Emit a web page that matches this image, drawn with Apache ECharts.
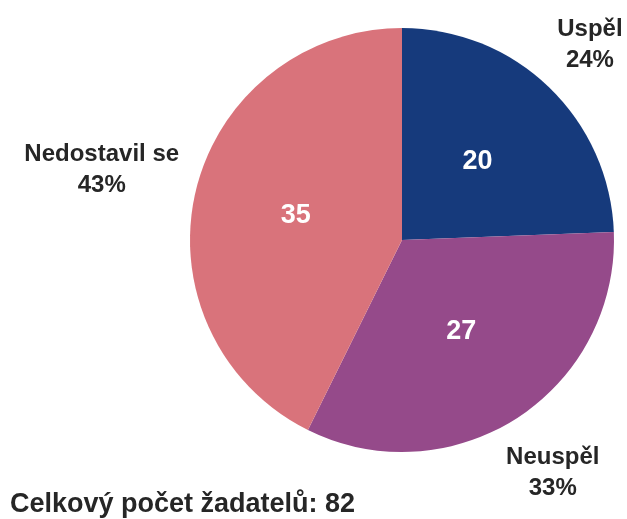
<!DOCTYPE html>
<html lang="cs">
<head>
    <meta charset="UTF-8">
    <title>Celkový počet žadatelů</title>
    <script src="https://cdn.jsdelivr.net/npm/echarts@6/dist/echarts.min.js"></script>
    <style type="text/css">
    html, body { margin: 0; padding: 0; background: #fff; }
    #main { width: 627px; height: 519px; }
    </style>
</head>
<body>
    <div id="main"></div>
    <script type="text/javascript">
        // data
        var names = ['Uspěl', 'Neuspěl', 'Nedostavil se'];
        var values = [20, 27, 35];
        var colors = ['#163a7c', '#954a8a', '#d9737b'];
        var titleText = 'Celkový počet žadatelů: 82';

        var center = [402, 240];
        var radius = 212;
        var gap = 14;

        var total = values.reduce(function (a, b) { return a + b; }, 0);
        var pieData = [];
        for (var i = 0; i < names.length; i++) {
            pieData.push({ name: names[i], value: values[i], itemStyle: { color: colors[i] } });
        }

        // midpoint angle of each slice (clockwise from 12 o'clock)
        function midAngle(idx) {
            var acc = 0;
            for (var k = 0; k < idx; k++) acc += values[k];
            return (acc + values[idx] / 2) / total * Math.PI * 2;
        }

        var myChart = echarts.init(document.getElementById('main'));
        var option = {
            animation: false,
            title: {
                text: titleText,
                left: 5,
                top: 486,
                textStyle: { fontFamily: 'Liberation Sans', fontSize: 27, fontWeight: 'bold', color: '#262626' }
            },
            series: [{
                type: 'pie',
                center: center,
                radius: radius,
                startAngle: 90,
                clockwise: true,
                silent: true,
                data: pieData,
                label: {
                    position: 'inside',
                    formatter: '{c}',
                    color: '#fff',
                    fontFamily: 'Liberation Sans',
                    fontWeight: 'bold',
                    fontSize: 27
                },
                labelLine: { show: false }
            }, {
                // outer labels only
                type: 'pie',
                center: center,
                radius: radius,
                startAngle: 90,
                clockwise: true,
                silent: true,
                percentPrecision: 0,
                data: pieData.map(function (d) {
                    return { name: d.name, value: d.value, itemStyle: { color: 'rgba(0,0,0,0)' } };
                }),
                label: {
                    position: 'outside',
                    formatter: '{b}\n{d}%',
                    color: '#262626',
                    fontFamily: 'Liberation Sans',
                    fontWeight: 'bold',
                    fontSize: 24,
                    lineHeight: 31,
                    overflow: 'none'
                },
                labelLine: { show: false },
                labelLayout: function (params) {
                    var a = midAngle(params.dataIndex);
                    var ux = Math.sin(a), uy = -Math.cos(a);
                    var w = params.labelRect.width, h = params.labelRect.height;
                    var d = radius + gap + Math.abs(ux) * w / 2 + Math.abs(uy) * h / 2;
                    return {
                        x: center[0] + ux * d,
                        y: center[1] + uy * d,
                        align: 'center',
                        verticalAlign: 'middle'
                    };
                }
            }]
        };
        myChart.setOption(option);
    </script>
</body>
</html>
